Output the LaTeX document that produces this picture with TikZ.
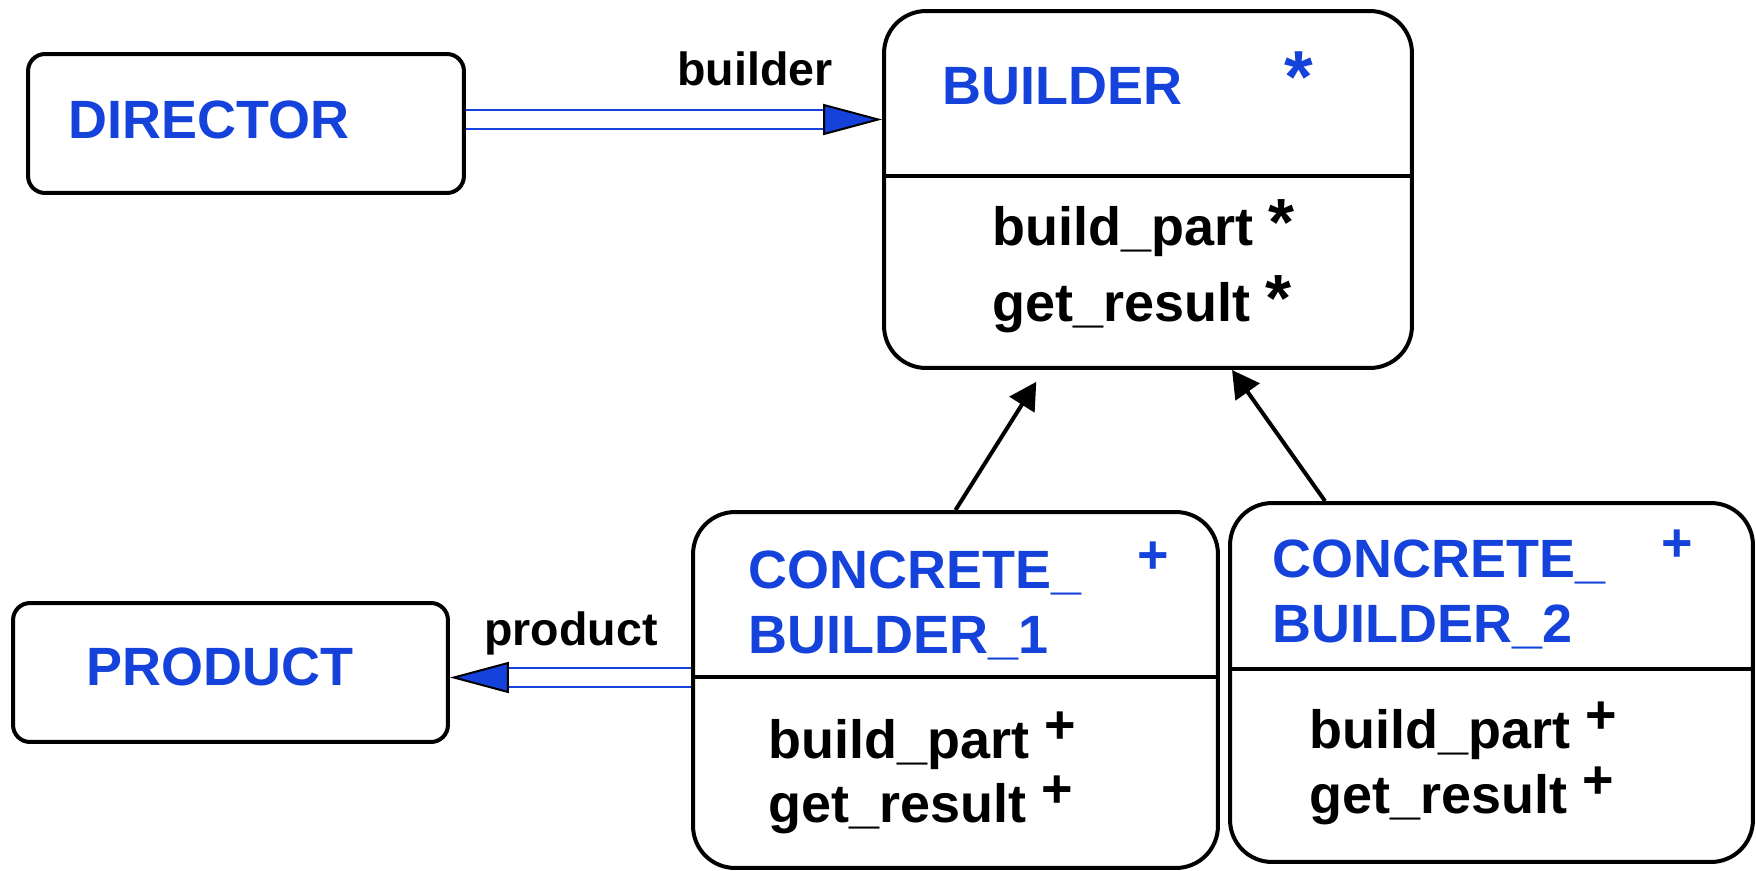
\documentclass[tikz,border=0pt]{standalone}
\usepackage{fontspec}
\setmainfont{Liberation Sans}
\usetikzlibrary{arrows.meta,calc}

\definecolor{classblue}{RGB}{20,66,218}

\tikzset{
    classbox/.style={draw, line width=0.08cm, rounded corners=0.84cm, inner sep=0pt},
    smallbox/.style={draw, line width=0.08cm, rounded corners=0.34cm, inner sep=0pt},
    classname/.style={text=classblue, font=\bfseries\fontsize{30.7pt}{36pt}\selectfont, inner sep=0pt, anchor=base west},
    classmark/.style={text=classblue, font=\bfseries\fontsize{30.7pt}{36pt}\selectfont, inner sep=0pt, anchor=base},
    feature/.style={font=\bfseries\fontsize{30.7pt}{36pt}\selectfont, inner sep=0pt, anchor=base west},
    linklabel/.style={font=\bfseries\fontsize{26.5pt}{30pt}\selectfont, inner sep=0pt, anchor=base west},
    client/.style={draw=classblue, line width=0.05cm, double=white, double distance=0.33cm, shorten >=1.18cm},
    clienttip/.style={line width=0.04cm, -{Triangle[length=1.18cm, width=0.62cm, fill=classblue]}},
    inherit/.style={line width=0.08cm, -{Triangle[length=0.54cm, width=0.58cm]}}
}

\begin{document}
\begin{tikzpicture}[x=0.02cm, y=-0.02cm]
    \useasboundingbox (0,0) rectangle (1756,870);
    \def\opStar{{\fontsize{38pt}{38pt}\selectfont *}}
    \def\opPlus{\raisebox{0.3cm}{+}}

    % classes
    \node[smallbox, minimum width=8.72cm, minimum height=2.78cm] (director) at (246,123.5) {};
    \node[smallbox, minimum width=8.7cm, minimum height=2.78cm] (product) at (230.5,672.5) {};
    \node[classbox, minimum width=10.56cm, minimum height=7.14cm] (builder) at (1148,189.5) {};
    \node[classbox, minimum width=10.5cm, minimum height=7.12cm] (cb1) at (955.5,690) {};
    \node[classbox, minimum width=10.46cm, minimum height=7.18cm] (cb2) at (1491.5,682.5) {};

    \draw[line width=0.08cm] (builder.west |- 0,176) -- (builder.east |- 0,176);
    \draw[line width=0.08cm] (cb1.west |- 0,677) -- (cb1.east |- 0,677);
    \draw[line width=0.08cm] (cb2.west |- 0,669) -- (cb2.east |- 0,669);

    \node[classname] (director-name) at (68,138) {DIRECTOR};
    \node[classname] (product-name) at (86,685) {PRODUCT};

    \node[classname] (builder-name) at (942,104) {BUILDER};
    \node[classmark, font=\bfseries\fontsize{42pt}{42pt}\selectfont] (builder-mark) at (1299,102) {*};
    \node[feature] (builder-op1) at (992,245) {build\_part \opStar};
    \node[feature] (builder-op2) at (992,321) {get\_result \opStar};

    \node[classname] (cb1-name1) at (748,588) {CONCRETE\_};
    \node[classname] (cb1-name2) at (748,653) {BUILDER\_1};
    \node[classmark] (cb1-mark) at (1153,573) {+};
    \node[feature] (cb1-op1) at (768,758) {build\_part \opPlus};
    \node[feature] (cb1-op2) at (768,822) {get\_result \opPlus};

    \node[classname] (cb2-name1) at (1272,577) {CONCRETE\_};
    \node[classname] (cb2-name2) at (1272,642) {BUILDER\_2};
    \node[classmark] (cb2-mark) at (1677,561) {+};
    \node[feature] (cb2-op1) at (1309,748) {build\_part \opPlus};
    \node[feature] (cb2-op2) at (1309,813) {get\_result \opPlus};

    % client links
    \draw[client] ($(director.east)+(0,-4)$) -- ($(director.east -| builder.west)+(0,-4)$);
    \draw[clienttip] ($(director.east -| builder.west)+(-58,-4)$) -- ($(director.east -| builder.west)+(0,-4)$);
    \node[linklabel] (builder-label) at (677,85) {builder};

    \draw[client] ($(product.east -| cb1.west)+(0,5)$) -- ($(product.east)+(0,5)$);
    \draw[clienttip] ($(product.east)+(58,5)$) -- ($(product.east)+(0,5)$);
    \node[linklabel] (product-label) at (484,645) {product};

    % inheritance
    \draw[inherit, shorten >=0.28cm] (cb1.north) -- ($(builder.south west)!0.304!(builder.south east)$);
    \draw[inherit] ($(cb2.north west)!0.184!(cb2.north east)$) -- ($(builder.south west)!0.658!(builder.south east)$);
\end{tikzpicture}
\end{document}
